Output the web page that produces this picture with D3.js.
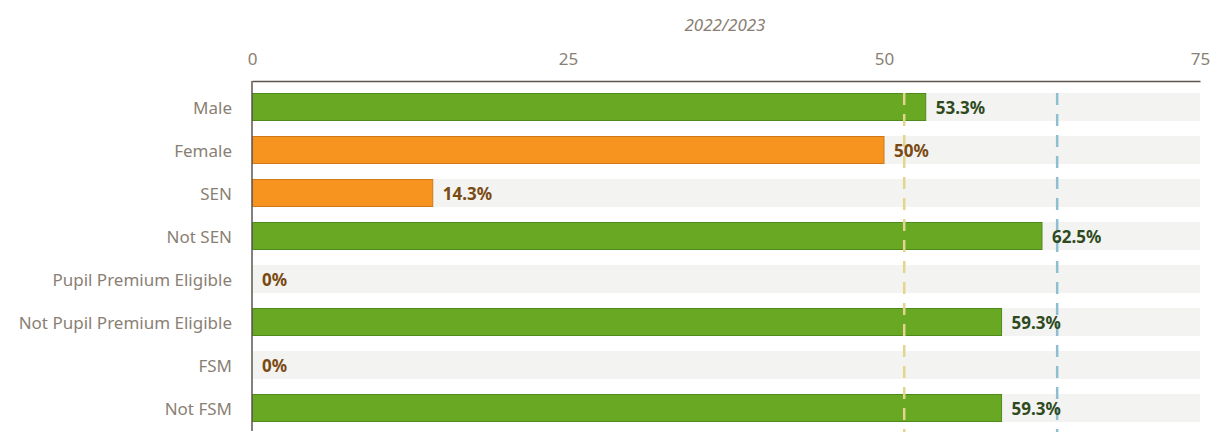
<!DOCTYPE html>
<html>
<head>
<meta charset="utf-8">
<script src="https://cdn.jsdelivr.net/npm/d3@7"></script>
<style>
  body { margin: 0; background: #fff; }
  svg text { font-family: "Noto Sans", "Open Sans", sans-serif; }
</style>
</head>
<body>
<div id="chart"></div>
<script>
const categories = ["Male", "Female", "SEN", "Not SEN", "Pupil Premium Eligible",
  "Not Pupil Premium Eligible", "FSM", "Not FSM"];
const values = [53.3, 50, 14.3, 62.5, 0, 59.3, 0, 59.3];
const valueLabels = ["53.3%", "50%", "14.3%", "62.5%", "0%", "59.3%", "0%", "59.3%"];
const xTicks = [0, 25, 50, 75];
const title = "2022/2023";
// reference lines
const refLines = [
  { value: 51.6, color: "#e3d58e" },
  { value: 63.7, color: "#8dbfd0" }
];

const width = 1213, height = 439;
const margin = { top: 81, right: 13, bottom: 7, left: 252 };
const W = width - margin.left - margin.right;
const H = height - margin.top - margin.bottom;

const x = d3.scaleLinear().domain([0, 75]).range([0, W]);
const y = d3.scaleBand().domain(categories).range([12, 341]).paddingInner(0.349).paddingOuter(0);

const svg = d3.select('#chart').append('svg')
  .attr('width', width).attr('height', height);

svg.append('text').attr('x', margin.left + W / 2 - 1).attr('y', 31)
  .attr('text-anchor', 'middle').attr('font-style', 'italic')
  .attr('font-size', '17px').attr('fill', '#8a7f74').text(title);

const g = svg.append('g').attr('transform', `translate(${margin.left},${margin.top})`);

// background bands
g.selectAll('rect.bg').data(categories).join('rect').attr('class', 'bg')
  .attr('x', 0).attr('y', d => y(d)).attr('width', W).attr('height', y.bandwidth())
  .attr('fill', '#f3f3f1');

// bars
const passColor = '#68a823', failColor = '#f7941f';
g.selectAll('rect.bar').data(values).join('rect').attr('class', 'bar')
  .attr('x', 0.5).attr('y', (d, i) => y(categories[i]) + 0.5)
  .attr('width', d => Math.max(0, x(d) - 0.5)).attr('height', y.bandwidth() - 1)
  .attr('fill', d => d >= refLines[0].value ? passColor : failColor)
  .attr('stroke', d => d >= refLines[0].value ? '#4f8a1c' : '#cf7818')
  .attr('stroke-width', 1)
  .attr('display', d => d > 0 ? null : 'none');

// dashed reference lines
refLines.forEach(r => {
  g.append('line').attr('x1', x(r.value)).attr('x2', x(r.value))
    .attr('y1', y(categories[0])).attr('y2', H)
    .attr('stroke', r.color).attr('stroke-width', 2.5)
    .attr('stroke-dasharray', '12,9');
});

// value labels
g.selectAll('text.val').data(values).join('text').attr('class', 'val')
  .attr('x', d => x(d) + 10).attr('y', (d, i) => y(categories[i]) + y.bandwidth() / 2 + 1.5)
  .attr('dy', '0.35em').attr('font-size', '17px').attr('font-weight', 'bold')
  .attr('fill', d => d >= refLines[0].value ? '#2f4a1e' : '#7a4a12')
  .text((d, i) => valueLabels[i]);

// top axis
const xAxis = g.append('g')
  .call(d3.axisTop(x).tickValues(xTicks).tickSize(0).tickPadding(16));
xAxis.select('.domain').attr('stroke', '#5e5650').attr('stroke-width', 1.5);
xAxis.selectAll('text').attr('fill', '#8a7f74').attr('font-size', '17px')
  .attr('font-family', '"Noto Sans", sans-serif');

// left axis
const yAxis = g.append('g')
  .call(d3.axisLeft(y).tickSize(0).tickPadding(20));
yAxis.select('.domain').attr('stroke', '#5e5650').attr('stroke-width', 1.5)
  .attr('d', `M0,0V${H - 1}`);
yAxis.selectAll('text').attr('fill', '#8a7f74').attr('font-size', '17px')
  .attr('font-family', '"Noto Sans", sans-serif').attr('dy', '0.42em');
</script>
</body>
</html>
